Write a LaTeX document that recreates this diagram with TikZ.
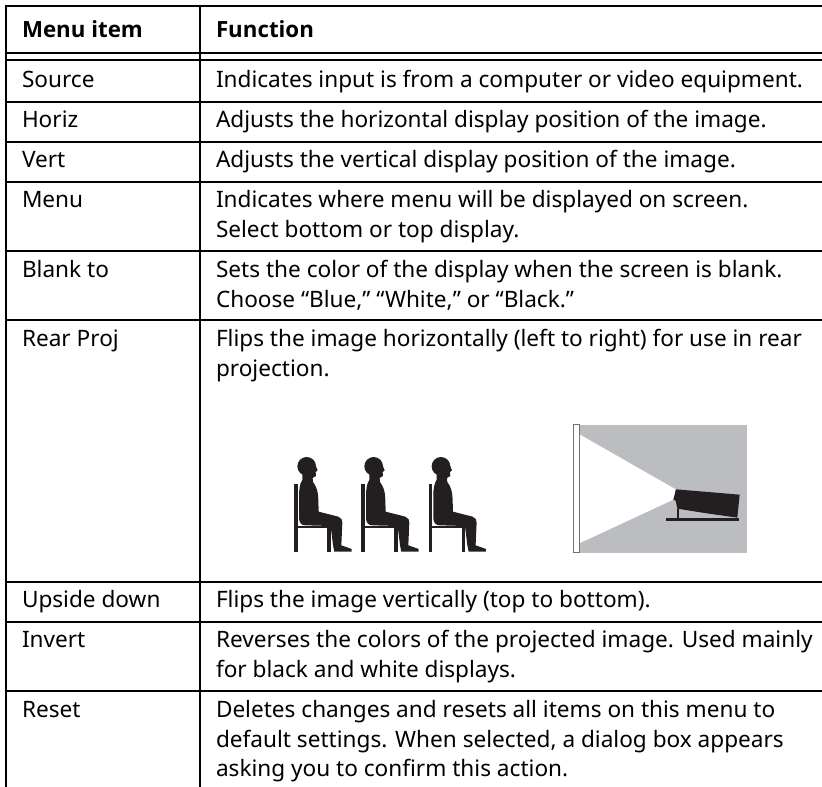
\documentclass[tikz,border=0pt]{standalone}
\usepackage{fontspec}
\setmainfont{Noto Sans}
\newfontfamily\headfont{Open Sans}
\definecolor{projgray}{HTML}{BCBDC0}
\definecolor{inkdark}{HTML}{231F20}
\tikzset{
  every node/.style={inner sep=0pt,outer sep=0pt},
  rule/.style={line width=2pt,black},
  cell/.style={anchor=base west,font=\fontsize{22.6}{30}\selectfont,text=black},
  headcell/.style={anchor=base west,font=\headfont\fontsize{22.3}{30}\selectfont\bfseries,text=black},
  pics/person/.style={code={
    \begin{scope}[x=0.3333pt,y=-0.3333pt]
      \fill[inkdark] (73,253) rectangle (83,457);
      \fill[inkdark] (73,378) rectangle (182,385);
      \fill[inkdark] (172,378) rectangle (182,457);
      \fill[inkdark] (110,199) circle (28);
      \fill[inkdark] (130,180) -- (143,211) -- (137,216) -- (138,228) -- (128,234) -- (129,246)
        .. controls (138,258) and (144,270) .. (145,300) -- (146,335) -- (205,350)
        .. controls (214,354) and (218,360) .. (217,368) -- (214,436) -- (245,447) -- (245,455)
        -- (193,455) -- (189,435) -- (182,378) -- (106,376)
        .. controls (94,376) and (88,368) .. (87,355) -- (87,290)
        .. controls (87,265) and (90,250) .. (97,240) -- (97,215) -- cycle;
    \end{scope}
  }},
}
\begin{document}
\begin{tikzpicture}[x=1pt,y=-1pt]
\useasboundingbox (0,0) rectangle (822,787);
\fill[white] (0,0) rectangle (822,787);

% table rules
\foreach \yy in {5.7,52.5,60,101.5,141.6,181.6,250.6,319.8,582,621.6,691}
  \draw[rule] (6,\yy) -- (822,\yy);
\draw[rule] (6,4.7) -- (6,787);
\draw[rule] (200,4.7) -- (200,787);

% header
\node[headcell] (h1) at (22,37) {Menu item};
\node[headcell] (h2) at (216,37) {Function};

% first column
\node[cell] (c1) at (22,87) {Source};
\node[cell] (c2) at (22,127) {Horiz};
\node[cell] (c3) at (22,167) {Vert};
\node[cell] (c4) at (22,207) {Menu};
\node[cell] (c5) at (22,277) {Blank to};
\node[cell] (c6) at (22,346) {Rear Proj};
\node[cell] (c7) at (22,607) {Upside down};
\node[cell] (c8) at (22,647) {Invert};
\node[cell] (c9) at (22,717) {Reset};

% second column
\node[cell] (d1) at (216,87) {Indicates input is from a computer or video equipment.};
\node[cell] (d2) at (216,127) {Adjusts the horizontal display position of the image.};
\node[cell] (d3) at (216,167) {Adjusts the vertical display position of the image.};
\node[cell] (d4) at (216,207) {Indicates where menu will be displayed on screen.};
\node[cell] (d4b) at (216,237) {Select bottom or top display.};
\node[cell] (d5) at (216,277) {Sets the color of the display when the screen is blank.};
\node[cell] (d5b) at (216,307) {Choose “Blue,” “White,” or “Black.”};
\node[cell] (d6) at (216,346) {Flips the image horizontally (left to right) for use in rear};
\node[cell] (d6b) at (216,376) {projection.};
\node[cell] (d7) at (216,607) {Flips the image vertically (top to bottom).};
\node[cell] (d8) at (216,647) {Reverses the colors of the projected image. Used mainly};
\node[cell] (d8b) at (216,677) {for black and white displays.};
\node[cell] (d9) at (216,717) {Deletes changes and resets all items on this menu to};
\node[cell] (d9b) at (216,747) {default settings. When selected, a dialog box appears};
\node[cell] (d9c) at (216,776) {asking you to confirm this action.};

% seated people
\pic at (270,400) {person};
\pic at (337,400) {person};
\pic at (404.3,400) {person};

% rear projection
\begin{scope}[shift={(560,400)},x=0.3333pt,y=-0.3333pt]
  \fill[projgray] (58,75) rectangle (561,458);
  \fill[white] (60,104) -- (347,268) -- (342,298) -- (60,429) -- cycle;
  \filldraw[fill=white,draw=black!55,line width=0.9pt] (41,73) rectangle (57,457);
  \fill[inkdark] (348,268) -- (539,284) -- (532,353) -- (440,340) -- (352,326) -- (347,302) -- (340,299) -- cycle;
  \fill[inkdark] (318,354) rectangle (537,362);
  \fill[inkdark] (352,326) rectangle (358,354);
\end{scope}
\end{tikzpicture}
\end{document}
